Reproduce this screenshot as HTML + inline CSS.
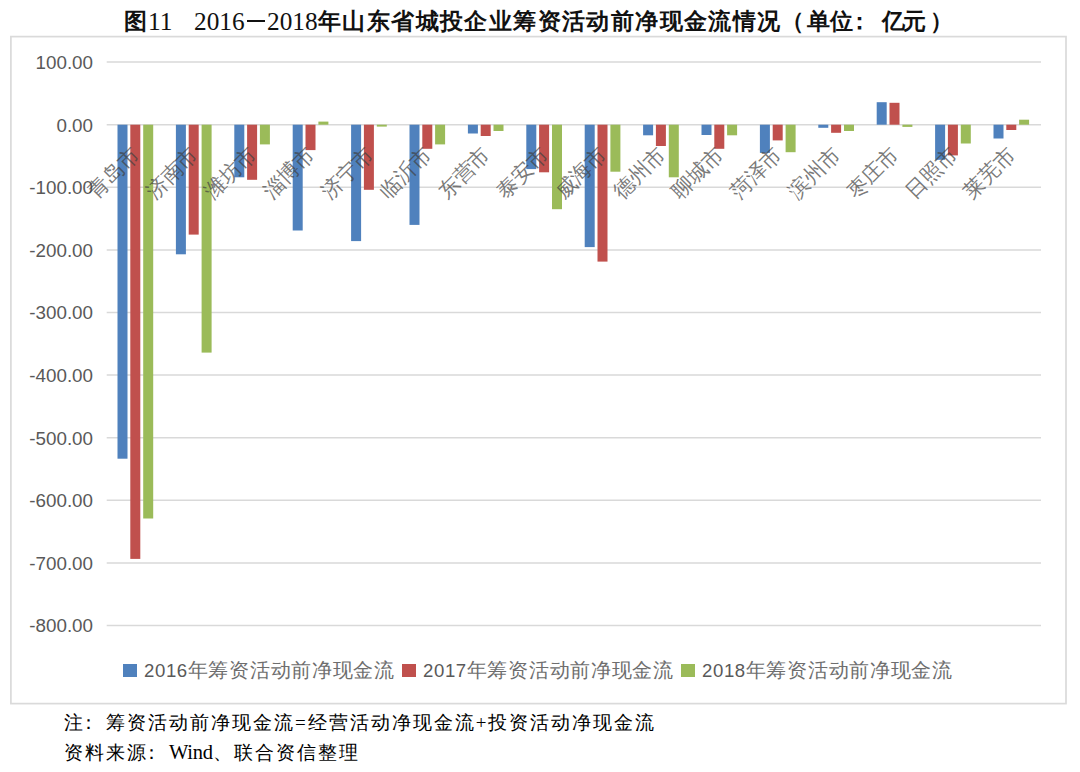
<!DOCTYPE html>
<html><head><meta charset="utf-8"><style>
html,body{margin:0;padding:0;background:#fff;width:1080px;height:772px;overflow:hidden;}
body{position:relative;font-family:"Liberation Sans",sans-serif;}
.tt{position:absolute;top:5.7px;font-size:23px;line-height:30px;color:#111;white-space:nowrap;}
.cj{font-family:"Liberation Sans",sans-serif;font-weight:bold;}
.dg{font-family:"Liberation Serif",serif;font-size:25.3px;}
svg{position:absolute;left:0;top:0;}
.yl{font-family:"Liberation Sans",sans-serif;font-size:18.8px;fill:#595959;}
.cl{font-family:"Liberation Serif",serif;font-size:21px;fill:#404040;fill-opacity:0.7;}
.legend{position:absolute;top:656px;left:123px;height:28px;white-space:nowrap;font-family:"Liberation Sans",sans-serif;font-size:20px;line-height:28px;color:#595959;}
.li{position:absolute;top:0;}
.sq{position:absolute;top:7.5px;width:13.5px;height:13px;}
.lt{position:absolute;left:21px;top:0;letter-spacing:0.7px;color:#6e6e6e;}
.ld{font-size:18.6px;letter-spacing:0.6px;color:#595959;}
.note{position:absolute;left:64px;font-family:"Liberation Serif",serif;font-size:19px;line-height:26px;color:#000;white-space:nowrap;letter-spacing:2px;}
</style></head><body>
<svg width="1080" height="772" viewBox="0 0 1080 772">
<rect x="10.9" y="36.6" width="1055.1" height="667" fill="#fff" stroke="#dadada" stroke-width="1.7"/>
<line x1="106.7" x2="1041" y1="625.50" y2="625.50" stroke="#d9d9d9" stroke-width="1.5"/>
<line x1="106.7" x2="1041" y1="562.90" y2="562.90" stroke="#d9d9d9" stroke-width="1.5"/>
<line x1="106.7" x2="1041" y1="500.30" y2="500.30" stroke="#d9d9d9" stroke-width="1.5"/>
<line x1="106.7" x2="1041" y1="437.70" y2="437.70" stroke="#d9d9d9" stroke-width="1.5"/>
<line x1="106.7" x2="1041" y1="375.10" y2="375.10" stroke="#d9d9d9" stroke-width="1.5"/>
<line x1="106.7" x2="1041" y1="312.50" y2="312.50" stroke="#d9d9d9" stroke-width="1.5"/>
<line x1="106.7" x2="1041" y1="249.90" y2="249.90" stroke="#d9d9d9" stroke-width="1.5"/>
<line x1="106.7" x2="1041" y1="187.30" y2="187.30" stroke="#d9d9d9" stroke-width="1.5"/>
<line x1="106.7" x2="1041" y1="124.70" y2="124.70" stroke="#d9d9d9" stroke-width="1.5"/>
<line x1="106.7" x2="1041" y1="62.10" y2="62.10" stroke="#d9d9d9" stroke-width="1.5"/>
<text x="93" y="632.30" text-anchor="end" class="yl">-800.00</text>
<text x="93" y="569.70" text-anchor="end" class="yl">-700.00</text>
<text x="93" y="507.10" text-anchor="end" class="yl">-600.00</text>
<text x="93" y="444.50" text-anchor="end" class="yl">-500.00</text>
<text x="93" y="381.90" text-anchor="end" class="yl">-400.00</text>
<text x="93" y="319.30" text-anchor="end" class="yl">-300.00</text>
<text x="93" y="256.70" text-anchor="end" class="yl">-200.00</text>
<text x="93" y="194.10" text-anchor="end" class="yl">-100.00</text>
<text x="93" y="131.50" text-anchor="end" class="yl">0.00</text>
<text x="93" y="68.90" text-anchor="end" class="yl">100.00</text>
<rect x="117.5" y="124.7" width="10.0" height="334.0" fill="#4f81bd"/>
<rect x="130.3" y="124.7" width="10.0" height="434.2" fill="#c0504d"/>
<rect x="143.2" y="124.7" width="10.0" height="393.8" fill="#9bbb59"/>
<rect x="175.9" y="124.7" width="10.0" height="129.6" fill="#4f81bd"/>
<rect x="188.7" y="124.7" width="10.0" height="109.9" fill="#c0504d"/>
<rect x="201.6" y="124.7" width="10.0" height="227.9" fill="#9bbb59"/>
<rect x="234.3" y="124.7" width="10.0" height="52.6" fill="#4f81bd"/>
<rect x="247.1" y="124.7" width="10.0" height="55.1" fill="#c0504d"/>
<rect x="259.9" y="124.7" width="10.0" height="19.7" fill="#9bbb59"/>
<rect x="292.7" y="124.7" width="10.0" height="105.8" fill="#4f81bd"/>
<rect x="305.5" y="124.7" width="10.0" height="25.4" fill="#c0504d"/>
<rect x="318.4" y="121.6" width="10.0" height="3.1" fill="#9bbb59"/>
<rect x="351.1" y="124.7" width="10.0" height="116.4" fill="#4f81bd"/>
<rect x="363.9" y="124.7" width="10.0" height="65.1" fill="#c0504d"/>
<rect x="376.8" y="124.7" width="10.0" height="1.9" fill="#9bbb59"/>
<rect x="409.5" y="124.7" width="10.0" height="100.2" fill="#4f81bd"/>
<rect x="422.3" y="124.7" width="10.0" height="24.1" fill="#c0504d"/>
<rect x="435.1" y="124.7" width="10.0" height="19.7" fill="#9bbb59"/>
<rect x="467.9" y="124.7" width="10.0" height="8.8" fill="#4f81bd"/>
<rect x="480.7" y="124.7" width="10.0" height="11.3" fill="#c0504d"/>
<rect x="493.5" y="124.7" width="10.0" height="6.3" fill="#9bbb59"/>
<rect x="526.3" y="124.7" width="10.0" height="44.4" fill="#4f81bd"/>
<rect x="539.1" y="124.7" width="10.0" height="47.6" fill="#c0504d"/>
<rect x="552.0" y="124.7" width="10.0" height="84.5" fill="#9bbb59"/>
<rect x="584.7" y="124.7" width="10.0" height="122.4" fill="#4f81bd"/>
<rect x="597.5" y="124.7" width="10.0" height="136.9" fill="#c0504d"/>
<rect x="610.4" y="124.7" width="10.0" height="47.0" fill="#9bbb59"/>
<rect x="643.1" y="124.7" width="10.0" height="10.6" fill="#4f81bd"/>
<rect x="655.9" y="124.7" width="10.0" height="21.3" fill="#c0504d"/>
<rect x="668.8" y="124.7" width="10.0" height="52.6" fill="#9bbb59"/>
<rect x="701.5" y="124.7" width="10.0" height="10.3" fill="#4f81bd"/>
<rect x="714.3" y="124.7" width="10.0" height="24.1" fill="#c0504d"/>
<rect x="727.1" y="124.7" width="10.0" height="10.6" fill="#9bbb59"/>
<rect x="759.9" y="124.7" width="10.0" height="28.2" fill="#4f81bd"/>
<rect x="772.7" y="124.7" width="10.0" height="15.7" fill="#c0504d"/>
<rect x="785.6" y="124.7" width="10.0" height="27.5" fill="#9bbb59"/>
<rect x="818.3" y="124.7" width="10.0" height="3.1" fill="#4f81bd"/>
<rect x="831.1" y="124.7" width="10.0" height="8.1" fill="#c0504d"/>
<rect x="844.0" y="124.7" width="10.0" height="6.3" fill="#9bbb59"/>
<rect x="876.7" y="102.2" width="10.0" height="22.5" fill="#4f81bd"/>
<rect x="889.5" y="102.8" width="10.0" height="21.9" fill="#c0504d"/>
<rect x="902.4" y="124.7" width="10.0" height="2.2" fill="#9bbb59"/>
<rect x="935.1" y="124.7" width="10.0" height="35.1" fill="#4f81bd"/>
<rect x="947.9" y="124.7" width="10.0" height="30.7" fill="#c0504d"/>
<rect x="960.8" y="124.7" width="10.0" height="18.8" fill="#9bbb59"/>
<rect x="993.5" y="124.7" width="10.0" height="13.8" fill="#4f81bd"/>
<rect x="1006.3" y="124.7" width="10.0" height="5.3" fill="#c0504d"/>
<rect x="1019.1" y="119.7" width="10.0" height="5.0" fill="#9bbb59"/>
<text x="140.9" y="155.7" text-anchor="end" class="cl" transform="rotate(-45 140.9 155.7)">青岛市</text>
<text x="199.3" y="155.7" text-anchor="end" class="cl" transform="rotate(-45 199.3 155.7)">济南市</text>
<text x="257.7" y="155.7" text-anchor="end" class="cl" transform="rotate(-45 257.7 155.7)">潍坊市</text>
<text x="316.1" y="155.7" text-anchor="end" class="cl" transform="rotate(-45 316.1 155.7)">淄博市</text>
<text x="374.5" y="155.7" text-anchor="end" class="cl" transform="rotate(-45 374.5 155.7)">济宁市</text>
<text x="432.9" y="155.7" text-anchor="end" class="cl" transform="rotate(-45 432.9 155.7)">临沂市</text>
<text x="491.3" y="155.7" text-anchor="end" class="cl" transform="rotate(-45 491.3 155.7)">东营市</text>
<text x="549.7" y="155.7" text-anchor="end" class="cl" transform="rotate(-45 549.7 155.7)">泰安市</text>
<text x="608.1" y="155.7" text-anchor="end" class="cl" transform="rotate(-45 608.1 155.7)">威海市</text>
<text x="666.5" y="155.7" text-anchor="end" class="cl" transform="rotate(-45 666.5 155.7)">德州市</text>
<text x="724.9" y="155.7" text-anchor="end" class="cl" transform="rotate(-45 724.9 155.7)">聊城市</text>
<text x="783.3" y="155.7" text-anchor="end" class="cl" transform="rotate(-45 783.3 155.7)">菏泽市</text>
<text x="841.7" y="155.7" text-anchor="end" class="cl" transform="rotate(-45 841.7 155.7)">滨州市</text>
<text x="900.1" y="155.7" text-anchor="end" class="cl" transform="rotate(-45 900.1 155.7)">枣庄市</text>
<text x="958.5" y="155.7" text-anchor="end" class="cl" transform="rotate(-45 958.5 155.7)">日照市</text>
<text x="1016.9" y="155.7" text-anchor="end" class="cl" transform="rotate(-45 1016.9 155.7)">莱芜市</text>
</svg>
<div class="tt cj" style="left:124px">图</div>
<div class="tt dg" style="left:148px">11</div>
<div class="tt dg" style="left:194px">2016</div>
<div style="position:absolute;left:247px;top:20px;width:18px;height:1.6px;background:#111"></div>
<div class="tt dg" style="left:267px">2018</div>
<div class="tt cj" style="left:318px;letter-spacing:1.4px">年山东省城投企业筹资活动前净现金流情况</div>
<div class="tt cj" style="left:781px">（</div>
<div class="tt cj" style="left:807px;letter-spacing:0px">单位</div>
<div class="tt cj" style="left:848px">：</div>
<div class="tt cj" style="left:882px;letter-spacing:-2px">亿元</div>
<div class="tt cj" style="left:930px">）</div>
<div class="legend">
<div class="li" style="left:0"><div class="sq" style="background:#4f81bd"></div><div class="lt"><span class="ld">2016</span>年筹资活动前净现金流</div></div>
<div class="li" style="left:279px"><div class="sq" style="background:#c0504d"></div><div class="lt"><span class="ld">2017</span>年筹资活动前净现金流</div></div>
<div class="li" style="left:558px"><div class="sq" style="background:#9bbb59"></div><div class="lt"><span class="ld">2018</span>年筹资活动前净现金流</div></div>
</div>
<div class="note" style="top:709.5px">注<span style="margin-left:-6px;margin-right:6px">：</span>筹资活动前净现金流=经营活动净现金流+投资活动净现金流</div>
<div class="note" style="top:739px">资料来源<span style="margin-left:-6px;margin-right:6px">：</span><span style="font-size:20.5px;letter-spacing:-0.2px">Wind</span>、联合资信整理</div>
</body></html>
